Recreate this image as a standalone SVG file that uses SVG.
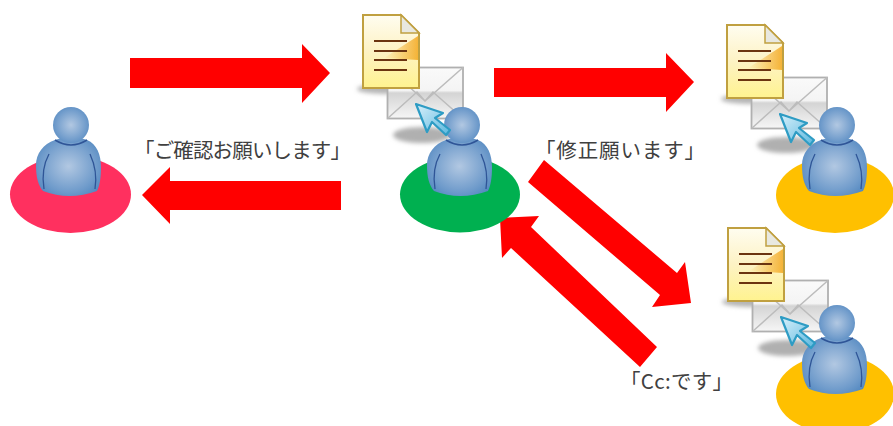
<svg xmlns="http://www.w3.org/2000/svg" width="893" height="426" viewBox="0 0 893 426">
<style>
.arrow{fill:#ff0000}
.lbl{font-family:"Noto Sans CJK JP","Noto Sans",sans-serif;font-size:20.500px;fill:#404040}
.line{stroke:#6b3410;stroke-width:2.200;fill:none}
</style>
<defs>
<radialGradient id="skin" cx="50%" cy="50%" r="62%"><stop offset="0" stop-color="#b2c8e2"/><stop offset="0.7" stop-color="#6f9bcb"/><stop offset="1" stop-color="#4f86bf"/></radialGradient>
<linearGradient id="paper" x1="0" y1="0" x2="0" y2="1"><stop offset="0" stop-color="#fffdf0"/><stop offset="0.5" stop-color="#fdf2c4"/><stop offset="1" stop-color="#fff38f"/></linearGradient>
<linearGradient id="wedge" x1="0" y1="0" x2="1" y2="0"><stop offset="0" stop-color="#f3a81f" stop-opacity="0"/><stop offset="1" stop-color="#f3a81f" stop-opacity="0.850"/></linearGradient>
<linearGradient id="env" x1="0" y1="0" x2="0" y2="1"><stop offset="0" stop-color="#fafafa"/><stop offset="0.45" stop-color="#f4f4f4"/><stop offset="0.5" stop-color="#d4d4d4"/><stop offset="1" stop-color="#f6f6f6"/></linearGradient>
<linearGradient id="cur" x1="0" y1="0" x2="1" y2="1"><stop offset="0" stop-color="#d8f0fb"/><stop offset="1" stop-color="#5cb8de"/></linearGradient>
<filter id="soft" x="-30%" y="-60%" width="160%" height="220%"><feGaussianBlur stdDeviation="2"/></filter>
<g id="envback">
<ellipse cx="60" cy="121" rx="29" ry="8" fill="#b0b0b0" filter="url(#soft)"/>
<ellipse cx="22" cy="75" rx="27" ry="5" fill="#b5b5b5" filter="url(#soft)"/>
<rect x="25.500" y="53.500" width="75.500" height="51" fill="url(#env)" stroke="#b0b0b0" stroke-width="1.800"/>
<path d="M25.500,104.500 L55,78 L63,87 L71,78 L101,104.500 M25.500,53.500 L63,87 L101,53.500" fill="none" stroke="#bcbcbc" stroke-width="1.500"/>
</g>
<g id="person">
<path d="M-26,66 C-31,60 -33,52 -33,40 C-33,29 -26,19 -14,15 Q2,8 18,15 C28,19 32,30 32,42 C32,52 31,60 28,66 Q0,76 -26,66 Z" fill="url(#skin)"/>
<circle cx="2" cy="0" r="18" fill="url(#skin)"/>
<path d="M-14,15 Q2,25 18,15" fill="none" stroke="#2f5597" stroke-width="1.500"/>
<path d="M-20,29 C-26,40 -27,52 -25,64 M21,29 C26,40 28,52 26,64" fill="none" stroke="#2f5597" stroke-width="1.300"/>
</g>
<g id="docfront">
<path d="M1,1 H39 L57,19 V74 H1 Z" fill="url(#paper)" stroke="#c0a040" stroke-width="2"/>
<path d="M22,44 L56,22 V46 Z" fill="url(#wedge)"/>
<path d="M39,1 V19 H57 Z" fill="#e8e8e0" stroke="#c0a040" stroke-width="1.500"/>
<path class="line" d="M12,27 H45 M12,37 H45 M12,46 H45 M12,56 H45"/>
<path d="M54,90 L81,99 L73,104 L88,116 L84,121 L70,108 L65,118 Z" fill="url(#cur)" stroke="#2e9cc4" stroke-width="2.200" stroke-linejoin="round"/>
</g>
</defs>
<g id="connectors">
<path class="arrow" d="M130,58 H302 V44 L330,73 L302,103 V88 H130 Z"/>
<path class="arrow" d="M494,68 H666 V53 L694,82 L666,112 V97 H494 Z"/>
<path class="arrow" d="M341,181 H170 V167 L142,195 L170,224 V210 H341 Z"/>
<path class="arrow" d="M544,160 L528,182 L660,295 L652,307 L691,303 L685,262 L677,273 Z"/>
<path class="arrow" d="M657,347 L640,367 L511,248 L502,258 L500,218 L539,216 L531,227 Z"/>
</g>
<g id="node-sender">
<ellipse cx="70.500" cy="194.500" rx="60.500" ry="38.500" fill="#ff305f"/>
<use href="#person" x="69" y="125"/>
</g>
<g id="node-center">
<ellipse cx="460" cy="194.500" rx="60" ry="38" fill="#00b050"/>
<use href="#envback" x="362" y="14"/>
<use href="#person" x="460" y="125"/>
<use href="#docfront" x="362" y="14"/>
</g>
<g id="node-to">
<ellipse cx="835" cy="195" rx="59" ry="38" fill="#ffc000"/>
<use href="#envback" x="726" y="24"/>
<use href="#person" x="835" y="125"/>
<use href="#docfront" x="726" y="24"/>
</g>
<g id="node-cc">
<ellipse cx="835" cy="394" rx="59" ry="39" fill="#ffc000"/>
<use href="#envback" x="727" y="227"/>
<use href="#person" x="835" y="323"/>
<use href="#docfront" x="727" y="227"/>
</g>
<g id="labels">
<text class="lbl" x="134" y="158" textLength="217">「ご確認お願いします」</text>
<text class="lbl" x="535" y="158" textLength="170">「修正願います」</text>
<text class="lbl" x="620" y="389" textLength="113">「Cc:です」</text>
</g>
</svg>
